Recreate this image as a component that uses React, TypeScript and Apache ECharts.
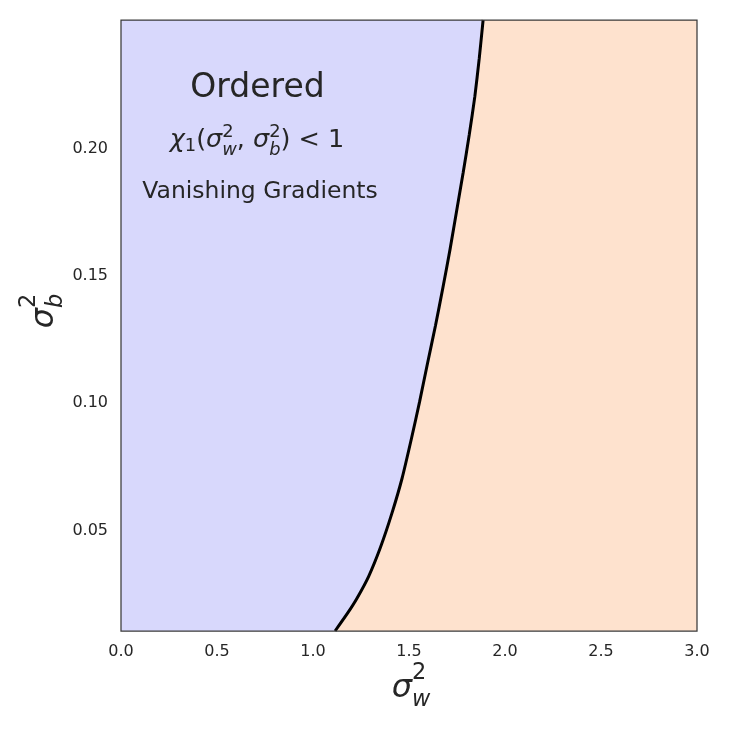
import React, { useEffect, useRef } from "react";
import * as echarts from "echarts";

// Boundary between ordered and chaotic phases (chi_1 = 1)
const sigmaW2 = [1.115, 1.18, 1.23, 1.29, 1.352, 1.41, 1.464, 1.514, 1.555, 1.596, 1.638, 1.677, 1.714, 1.748, 1.782, 1.814, 1.843, 1.866, 1.886];
const sigmaB2 = [0.01, 0.017, 0.023, 0.0315, 0.043, 0.056, 0.07, 0.086, 0.1, 0.115, 0.13, 0.145, 0.16, 0.175, 0.19, 0.205, 0.22, 0.235, 0.25];

const xRange = [0, 3];
const yRange = [0.01, 0.25];
const xTicks = [0, 0.5, 1, 1.5, 2, 2.5, 3];
const yTicks = [0.05, 0.1, 0.15, 0.2];

const TXT = "#262626";
const FONT = '"DejaVu Sans"';

type Piece = { t: string; s: number; it?: boolean; dy?: number; stack?: boolean };

let ctx: CanvasRenderingContext2D | null = null;
function fontStr(p: Piece) {
  return `${p.it ? "italic " : ""}${p.s}px ${FONT}`;
}
function measure(p: Piece) {
  if (!ctx) ctx = document.createElement("canvas").getContext("2d");
  if (!ctx) return p.t.length * p.s * 0.6;
  ctx.font = fontStr(p);
  return ctx.measureText(p.t).width;
}

function mathGroup(pieces: Piece[], cx: number, baseY: number, rotation = 0) {
  const placed: { p: Piece; x: number }[] = [];
  let x = 0;
  let pendingW = 0;
  for (const p of pieces) {
    const w = measure(p);
    placed.push({ p, x });
    if (p.stack) {
      pendingW = w;
    } else {
      x += Math.max(w, pendingW);
      pendingW = 0;
    }
  }
  const W = x;
  return {
    type: "group",
    x: cx,
    y: baseY,
    rotation,
    silent: true,
    z: 50,
    children: placed.map(({ p, x: px }) => ({
      type: "text",
      x: px - W / 2,
      y: (p.dy || 0) - 0.346 * p.s,
      silent: true,
      style: {
        text: p.t,
        font: fontStr(p),
        fill: TXT,
        align: "left",
        textAlign: "left",
        verticalAlign: "middle",
        textVerticalAlign: "middle",
      },
    })),
  };
}

function chiFormula(S: number, op: string): Piece[] {
  const sub = 0.7 * S;
  return [
    { t: "χ", s: S, it: true },
    { t: "1", s: sub, dy: 0.15 * S },
    { t: "(", s: S },
    { t: "σ", s: S, it: true },
    { t: "2", s: sub, dy: -0.39 * S, stack: true },
    { t: "w", s: sub, it: true, dy: 0.3 * S },
    { t: ", ", s: S },
    { t: "σ", s: S, it: true },
    { t: "2", s: sub, dy: -0.39 * S, stack: true },
    { t: "b", s: sub, it: true, dy: 0.3 * S },
    { t: ")", s: S },
    { t: " " + op + " 1", s: S },
  ];
}

function axisTitle(S: number, subLetter: string): Piece[] {
  return [
    { t: "σ", s: S, it: true },
    { t: "2", s: 0.7 * S, dy: -0.56 * S, stack: true },
    { t: subLetter, s: 0.7 * S, it: true, dy: 0.26 * S },
  ];
}

export default function App() {
  const ref = useRef<HTMLDivElement>(null);

  useEffect(() => {
    if (!ref.current) return;
    const chart = echarts.init(ref.current, null, { renderer: "svg" });

    const curve = sigmaW2.map((x, i) => [x, sigmaB2[i]]);
    const fillData = [...curve, [xRange[1], yRange[1]]];

    const option: any = {
      animation: false,
      grid: {
        left: 121,
        right: 34,
        top: 20,
        bottom: 100,
        show: true,
        backgroundColor: "#d8d8fc",
        borderWidth: 0,
      },
      xAxis: {
        type: "value",
        min: xRange[0],
        max: xRange[1],
        interval: 0.5,
        axisLine: { show: false },
        axisTick: { show: false },
        splitLine: { show: false },
        axisLabel: {
          fontSize: 16,
          fontFamily: "DejaVu Sans",
          color: TXT,
          margin: 11,
          formatter: (v: number) =>
            xTicks.some((t) => Math.abs(t - v) < 1e-9) ? v.toFixed(1) : "",
        },
      },
      yAxis: {
        type: "value",
        min: yRange[0],
        max: yRange[1],
        interval: 0.01,
        axisLine: { show: false },
        axisTick: { show: false },
        splitLine: { show: false },
        axisLabel: {
          fontSize: 16,
          fontFamily: "DejaVu Sans",
          color: TXT,
          margin: 13,
          formatter: (v: number) =>
            yTicks.some((t) => Math.abs(t - v) < 1e-9) ? v.toFixed(2) : "",
        },
      },
      series: [
        {
          type: "line",
          data: fillData,
          smooth: 0.2,
          symbol: "none",
          silent: true,
          lineStyle: { width: 0, opacity: 0 },
          areaStyle: { color: "#fee2ce", opacity: 1, origin: "start" },
          z: 1,
        },
        {
          type: "line",
          data: curve,
          smooth: 0.2,
          symbol: "none",
          silent: true,
          lineStyle: { color: "#000000", width: 3 },
          z: 3,
        },
      ],
      graphic: [
        {
          type: "rect",
          shape: { x: 121, y: 20, width: 576, height: 611 },
          style: { fill: "none", stroke: "#3a3a3a", lineWidth: 1.25 },
          silent: true,
          z: 100,
        },
        mathGroup([{ t: "Ordered", s: 33 }], 257.5, 96.7),
        mathGroup(chiFormula(25.5, "<"), 257, 147),
        mathGroup([{ t: "Vanishing Gradients", s: 23.5 }], 260, 198.3),
        mathGroup([{ t: "Chaotic", s: 33 }], 551, 505),
        mathGroup(chiFormula(25.5, ">"), 556, 555.5),
        mathGroup([{ t: "Exploding Gradients", s: 23.5 }], 549, 605),
        mathGroup(axisTitle(32, "w"), 411, 697),
        mathGroup(axisTitle(32, "b"), 53, 311, Math.PI / 2),
      ],
    };

    chart.setOption(option);
    return () => chart.dispose();
  }, []);

  return (
    <div
      ref={ref}
      style={{ position: "fixed", left: 0, top: 0, width: 731, height: 731 }}
    />
  );
}
